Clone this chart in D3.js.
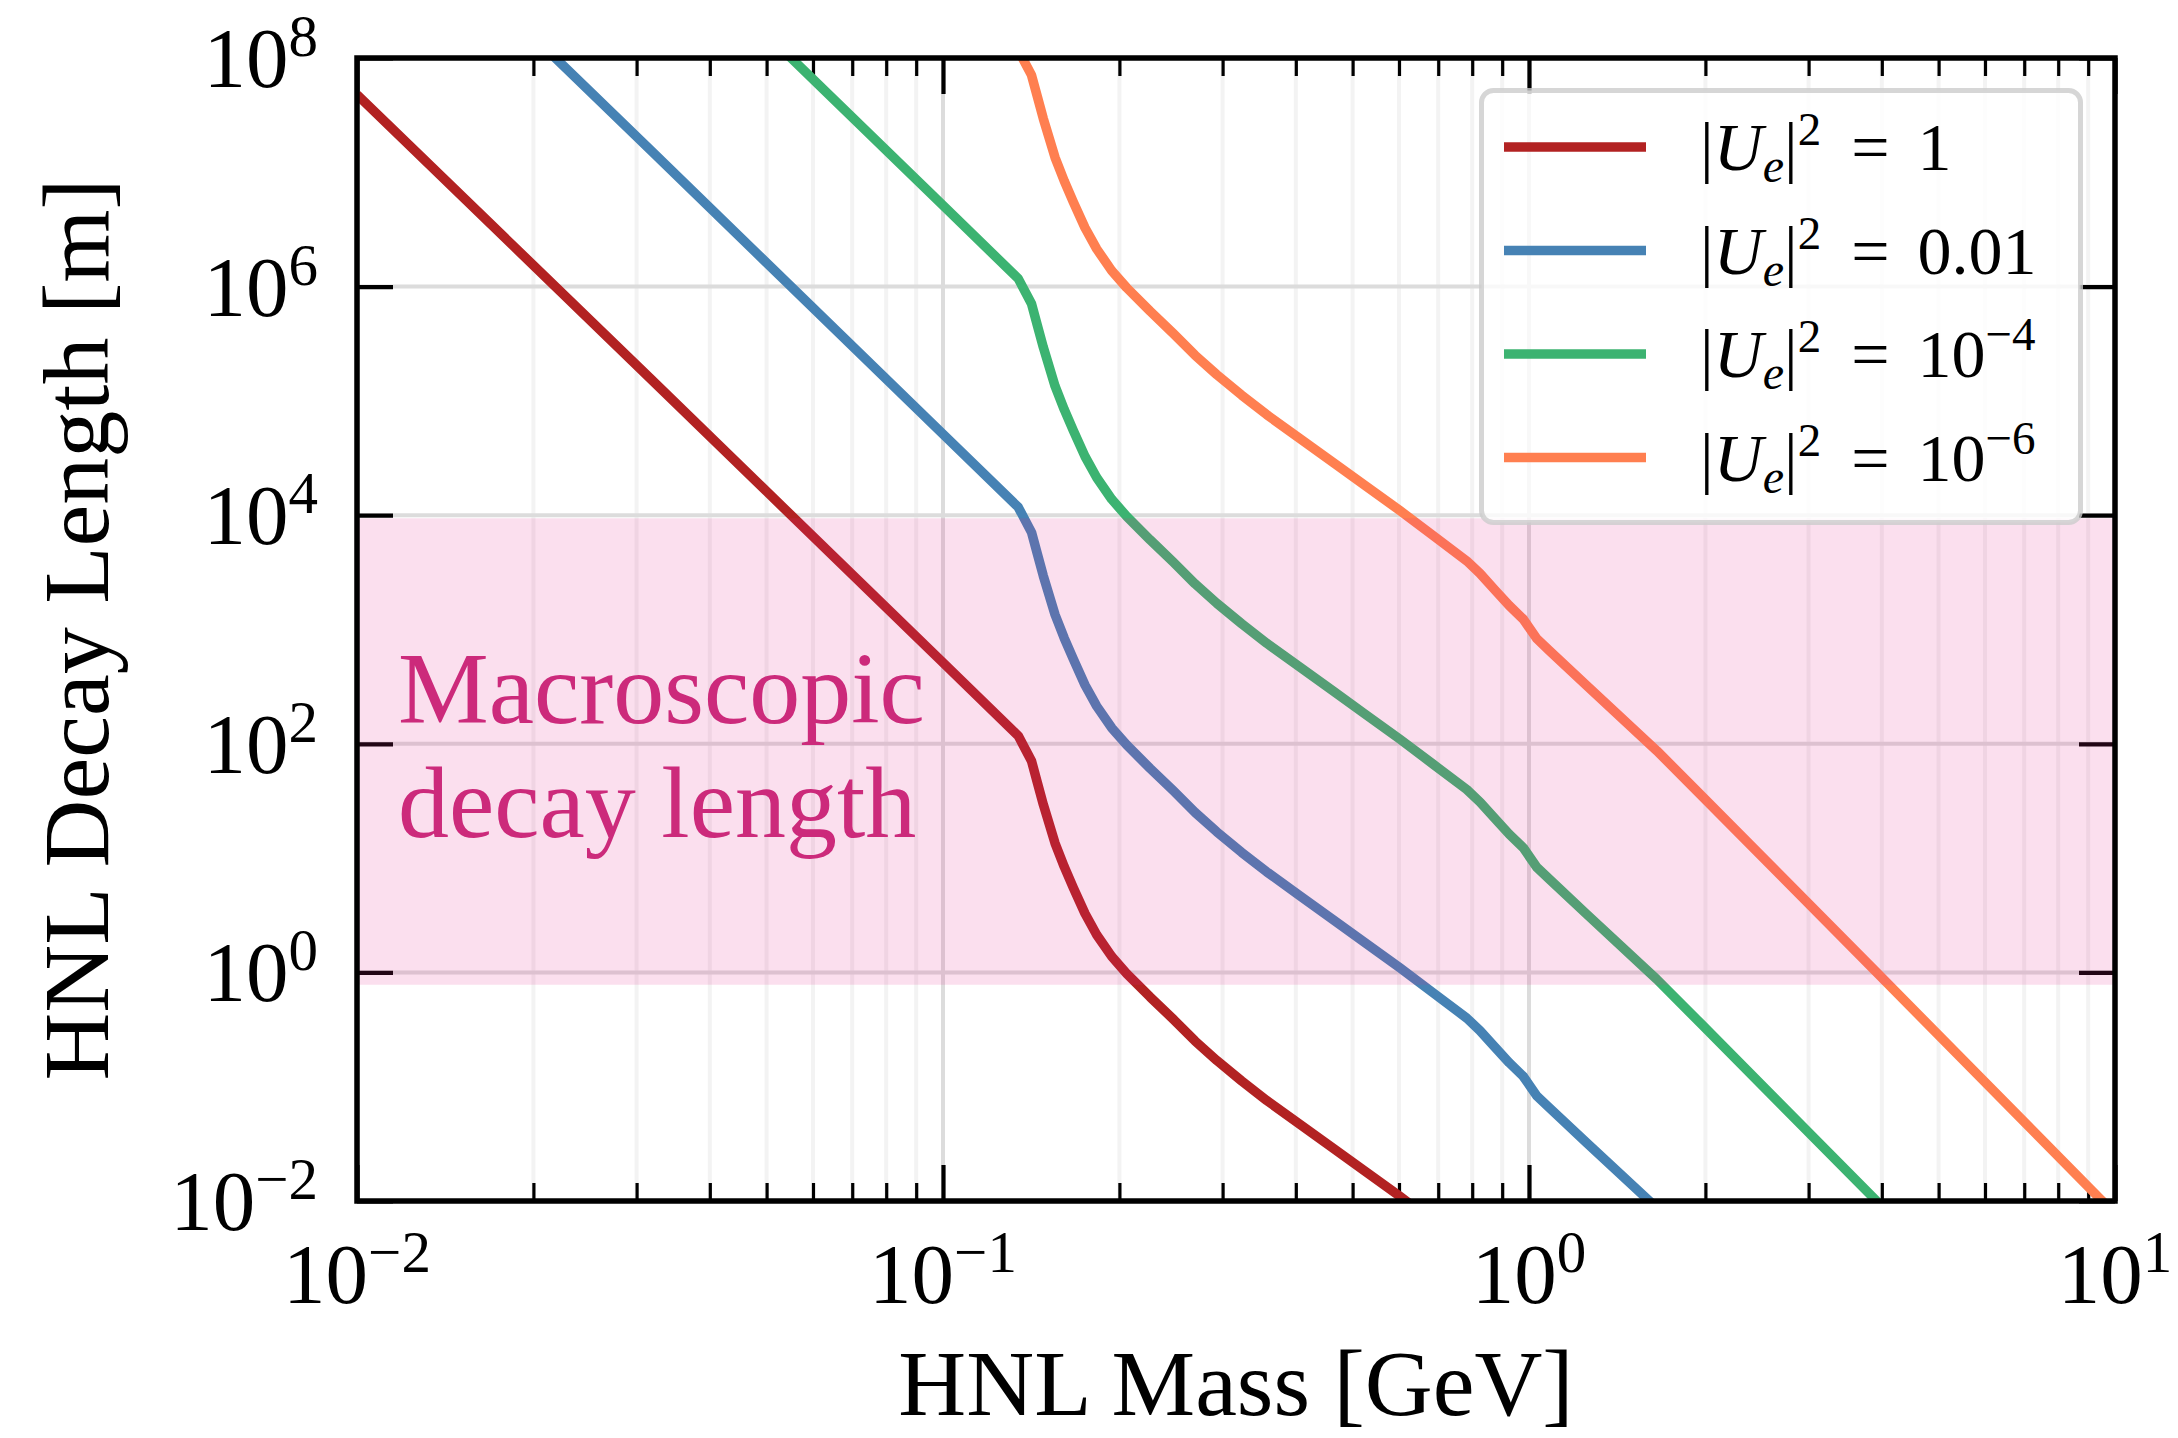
<!DOCTYPE html>
<html><head><meta charset="utf-8">
<script src="https://cdn.jsdelivr.net/npm/d3@7"></script>
<style>body{margin:0;background:#fff} svg{display:block}</style>
</head><body>
<svg id="chart" width="2178" height="1438"></svg>
<script>
// ---------------- data ----------------
const massGeV = [0.01, 0.0316, 0.1, 0.1344, 0.1416, 0.1449, 0.1483, 0.1553, 0.1610, 0.1669,
  0.1747, 0.1829, 0.1940, 0.2058, 0.2256, 0.2472, 0.2692, 0.2932, 0.3234, 0.3567,
  0.4066, 0.4636, 0.5284, 0.6024, 0.6868, 0.7830, 0.825, 0.875, 0.925, 0.978,
  1.031, 1.086, 1.254, 1.652, 1.958, 3.92, 9.43, 10];
const decayU1 = [4.786e7, 1.585e5, 512.9, 117.5, 70.79, 45.71, 29.51, 13.49, 8.414, 5.495,
  3.273, 2.138, 1.380, 0.9772, 0.6095, 0.3890, 0.2512, 0.1698, 0.1122, 0.07586,
  0.04677, 0.02884, 0.01778, 0.01096, 0.006607, 0.003981, 0.003090, 0.002213, 0.001622, 0.001230,
  8.318e-4, 6.457e-4, 3.236e-4, 8.710e-5, 3.631e-5, 1.0e-6, 1.047e-8, 7.762e-9];
const decayU001 = [4.786e9, 1.585e7, 5.129e4, 1.175e4, 7079, 4571, 2951, 1349, 841.4, 549.5,
  327.3, 213.8, 138.0, 97.72, 60.95, 38.90, 25.12, 16.98, 11.22, 7.586,
  4.677, 2.884, 1.778, 1.096, 0.6607, 0.3981, 0.3090, 0.2213, 0.1622, 0.1230,
  0.08318, 0.06457, 0.03236, 0.008710, 0.003631, 1.0e-4, 1.047e-6, 7.762e-7];
const decayU1e4 = [4.786e11, 1.585e9, 5.129e6, 1.175e6, 7.079e5, 4.571e5, 2.951e5, 1.349e5, 8.414e4, 5.495e4,
  3.273e4, 2.138e4, 1.380e4, 9772, 6095, 3890, 2512, 1698, 1122, 758.6,
  467.7, 288.4, 177.8, 109.6, 66.07, 39.81, 30.90, 22.13, 16.22, 12.30,
  8.318, 6.457, 3.236, 0.8710, 0.3631, 0.01, 1.047e-4, 7.762e-5];
const decayU1e6 = [4.786e13, 1.585e11, 5.129e8, 1.175e8, 7.079e7, 4.571e7, 2.951e7, 1.349e7, 8.414e6, 5.495e6,
  3.273e6, 2.138e6, 1.380e6, 9.772e5, 6.095e5, 3.890e5, 2.512e5, 1.698e5, 1.122e5, 7.586e4,
  4.677e4, 2.884e4, 1.778e4, 1.096e4, 6607, 3981, 3090, 2213, 1622, 1230,
  831.8, 645.7, 323.6, 87.10, 36.31, 1.0, 0.01047, 0.007762];
const seriesColors = ["#b22222", "#4682b4", "#3cb371", "#ff7f50"];
const legendValues = [{base: "1"}, {base: "0.01"}, {base: "10", exp: "\u22124"}, {base: "10", exp: "\u22126"}];
const xTickExps = [-2, -1, 0, 1];
const yTickExps = [-2, 0, 2, 4, 6, 8];
const bandRange = [0.78, 9.4e3];
const bandText = ["Macroscopic", "decay length"];
const xTitle = "HNL Mass [GeV]";
const yTitle = "HNL Decay Length [m]";

// ---------------- layout ----------------
const L = 357, R = 2115, T = 58, B = 1201;
const FONT = "'Liberation Serif', 'Times New Roman', serif";
const svg = d3.select("#chart");
const x = d3.scaleLog().domain([1e-2, 10]).range([L, R]);
const y = d3.scaleLog().domain([1e-2, 1e8]).range([B, T]);

svg.append("defs").append("clipPath").attr("id", "clip")
  .append("rect").attr("x", L).attr("y", T).attr("width", R - L).attr("height", B - T);

const xMajor = xTickExps.map(e => Math.pow(10, e));
const xMinor = x.ticks().filter(v => !xMajor.some(m => Math.abs(v / m - 1) < 1e-6));
const yMajor = yTickExps.map(e => Math.pow(10, e));

// grid
const grid = svg.append("g");
grid.selectAll(".mg").data(xMinor).join("line")
  .attr("x1", d => x(d)).attr("x2", d => x(d)).attr("y1", T).attr("y2", B)
  .attr("stroke", "#f3f3f3").attr("stroke-width", 4);
grid.selectAll(".gx").data(xMajor).join("line")
  .attr("x1", d => x(d)).attr("x2", d => x(d)).attr("y1", T).attr("y2", B)
  .attr("stroke", "#dcdcdc").attr("stroke-width", 4);
grid.selectAll(".gy").data(yMajor).join("line")
  .attr("x1", L).attr("x2", R).attr("y1", d => y(d)).attr("y2", d => y(d))
  .attr("stroke", "#dcdcdc").attr("stroke-width", 4);

// ticks (inside, all four sides) using d3 axes
function styleAxis(g, w) {
  g.select(".domain").remove();
  g.selectAll(".tick line").attr("stroke", "#000").attr("stroke-width", w);
  g.selectAll(".tick text").remove();
}
const ticks = svg.append("g");
ticks.append("g").attr("transform", `translate(0,${B})`)
  .call(d3.axisBottom(x).tickValues(xMinor).tickSize(-18).tickFormat(""))
  .call(g => styleAxis(g, 3.2));
ticks.append("g").attr("transform", `translate(0,${T})`)
  .call(d3.axisTop(x).tickValues(xMinor).tickSize(-18).tickFormat(""))
  .call(g => styleAxis(g, 3.2));
ticks.append("g").attr("transform", `translate(0,${B})`)
  .call(d3.axisBottom(x).tickValues(xMajor).tickSize(-36).tickFormat(""))
  .call(g => styleAxis(g, 4.2));
ticks.append("g").attr("transform", `translate(0,${T})`)
  .call(d3.axisTop(x).tickValues(xMajor).tickSize(-36).tickFormat(""))
  .call(g => styleAxis(g, 4.2));
ticks.append("g").attr("transform", `translate(${L},0)`)
  .call(d3.axisLeft(y).tickValues(yMajor).tickSize(-36).tickFormat(""))
  .call(g => styleAxis(g, 4.2));
ticks.append("g").attr("transform", `translate(${R},0)`)
  .call(d3.axisRight(y).tickValues(yMajor).tickSize(-36).tickFormat(""))
  .call(g => styleAxis(g, 4.2));

// curves
const allSeries = [decayU1, decayU001, decayU1e4, decayU1e6];
const line = d3.line().x(d => x(d[0])).y(d => y(d[1]));
const curves = svg.append("g").attr("clip-path", "url(#clip)");
allSeries.forEach((vals, i) => {
  curves.append("path").datum(massGeV.map((m, k) => [m, vals[k]]))
    .attr("d", line).attr("fill", "none").attr("stroke", seriesColors[i])
    .attr("stroke-width", 9.5).attr("stroke-linejoin", "round");
});

// macroscopic band (drawn over curves, translucent)
svg.append("rect").attr("clip-path", "url(#clip)")
  .attr("x", L).attr("width", R - L)
  .attr("y", y(bandRange[1])).attr("height", y(bandRange[0]) - y(bandRange[1]))
  .attr("fill", "#e7298a").attr("fill-opacity", 0.15);

bandText.forEach((t, i) => {
  svg.append("text").attr("x", 398).attr("y", 723 + i * 114)
    .attr("font-family", FONT).attr("font-size", 102).attr("fill", "#cc2a7b").text(t);
});

// frame
svg.append("rect").attr("x", L).attr("y", T).attr("width", R - L).attr("height", B - T)
  .attr("fill", "none").attr("stroke", "#000").attr("stroke-width", 5.5);

// legend
const lg = svg.append("g");
lg.append("rect").attr("x", 1481.5).attr("y", 90.5).attr("width", 599).attr("height", 432)
  .attr("rx", 12).attr("fill", "#fff").attr("fill-opacity", 0.8)
  .attr("stroke", "#cccccc").attr("stroke-opacity", 0.8).attr("stroke-width", 5);
legendValues.forEach((lv, i) => {
  const cy = 147 + i * 103.5;
  lg.append("line").attr("x1", 1504).attr("x2", 1646).attr("y1", cy).attr("y2", cy)
    .attr("stroke", seriesColors[i]).attr("stroke-width", 9.5);
  const t = lg.append("text").attr("x", 1700).attr("y", cy + 23)
    .attr("font-family", FONT).attr("font-size", 68).attr("fill", "#000");
  t.append("tspan").text("|");
  t.append("tspan").attr("font-style", "italic").text("U");
  t.append("tspan").attr("font-style", "italic").attr("font-size", 48).attr("dy", 12).text("e");
  t.append("tspan").attr("dy", -12).text("|");
  t.append("tspan").attr("font-size", 47).attr("dy", -25).text("2");
  t.append("tspan").attr("dy", 25).attr("dx", 30).text("=");
  t.append("tspan").attr("dx", 28).text(lv.base);
  if (lv.exp) t.append("tspan").attr("font-size", 47).attr("dy", -27).text(lv.exp);
});

// tick labels
function pow10(sel, e) {
  sel.append("tspan").text("10");
  sel.append("tspan").attr("font-size", 59).attr("dy", -31).text(e < 0 ? "\u2212" + (-e) : String(e));
}
svg.append("g").selectAll("text").data(xTickExps).join("text")
  .attr("x", d => x(Math.pow(10, d))).attr("y", 1303).attr("text-anchor", "middle")
  .attr("font-family", FONT).attr("font-size", 85)
  .each(function(d) { pow10(d3.select(this), d); });
svg.append("g").selectAll("text").data(yTickExps).join("text")
  .attr("x", 318).attr("y", d => y(Math.pow(10, d)) + 29).attr("text-anchor", "end")
  .attr("font-family", FONT).attr("font-size", 85)
  .each(function(d) { pow10(d3.select(this), d); });

// axis titles
svg.append("text").attr("x", (L + R) / 2).attr("y", 1415).attr("text-anchor", "middle")
  .attr("font-family", FONT).attr("font-size", 94).text(xTitle);
svg.append("text").attr("transform", `translate(108,${(T + B) / 2}) rotate(-90)`)
  .attr("text-anchor", "middle").attr("font-family", FONT).attr("font-size", 94).text(yTitle);
</script>
</body></html>
